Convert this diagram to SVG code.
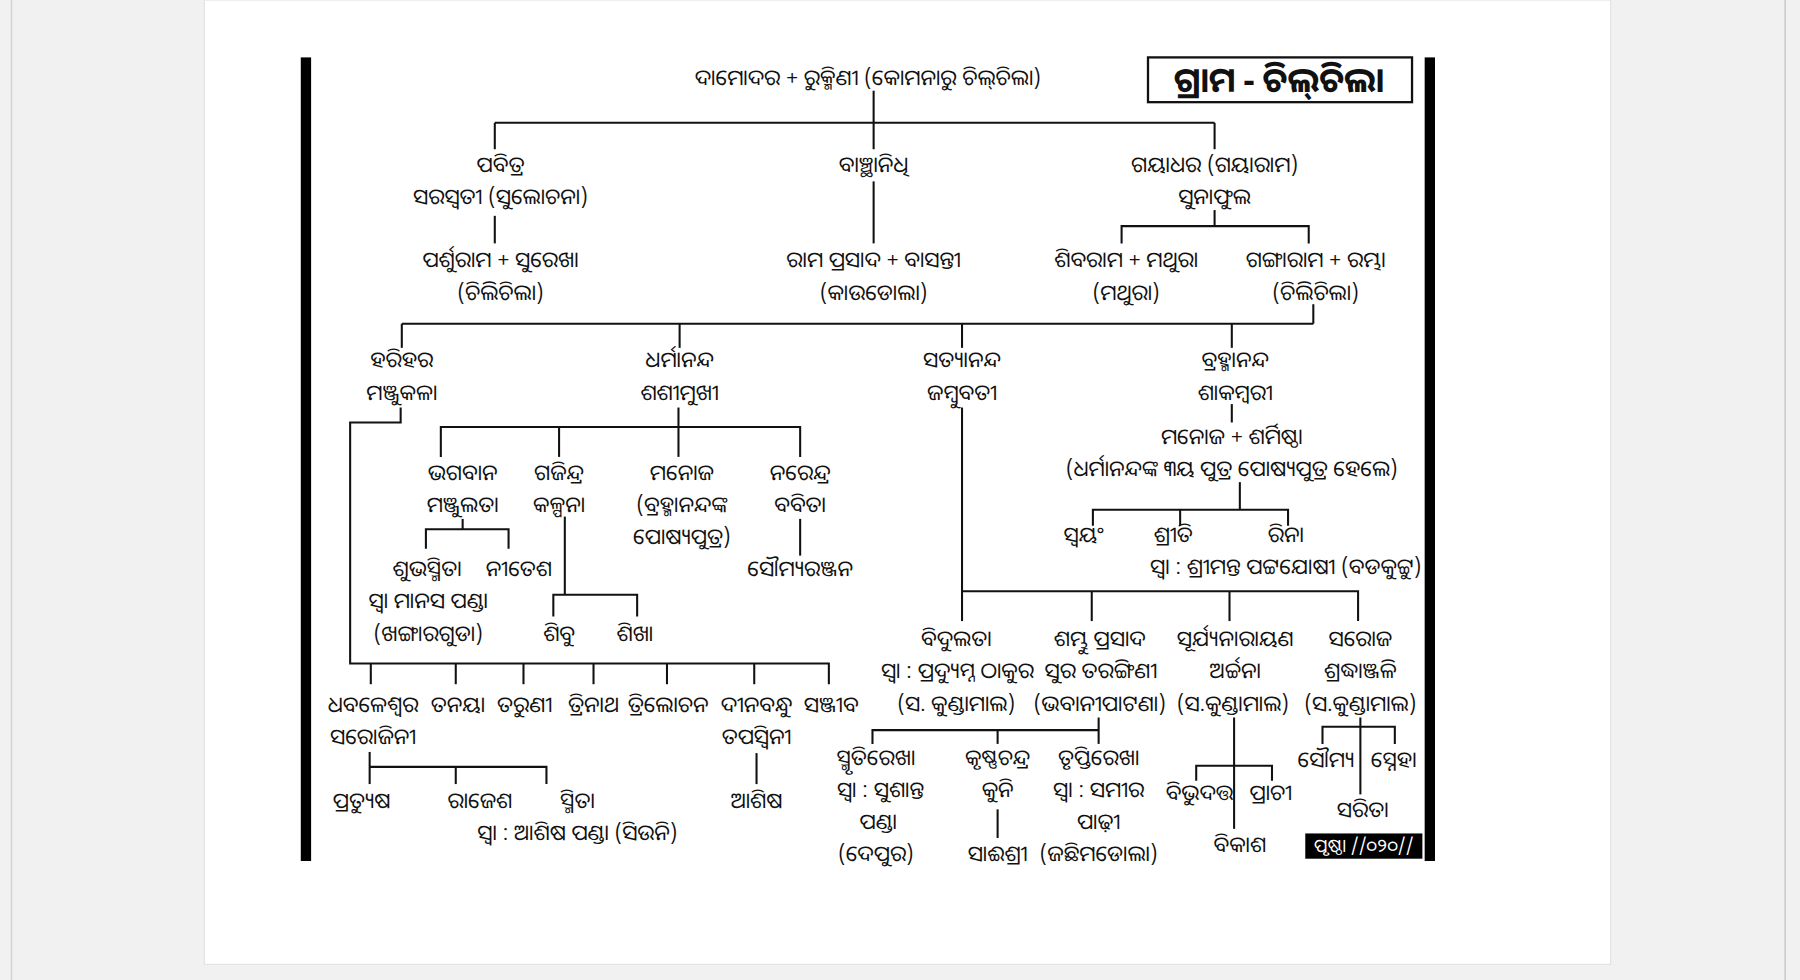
<svg xmlns="http://www.w3.org/2000/svg" width="1800" height="980" viewBox="0 0 1800 980">
<style>
text{font-family:"Noto Sans Oriya","Noto Sans","DejaVu Sans",sans-serif;font-size:19px;fill:#111;text-anchor:middle}
.c line,.c polyline{stroke:#111;stroke-width:1.8;fill:none}
.t{font-size:30px;font-weight:bold}
.pg{fill:#fff;font-size:16px}
</style>
<rect x="0" y="0" width="1800" height="980" fill="#f1f1f1"/>
<g transform="scale(1.148)">
<line x1="10" y1="0" x2="10" y2="854" stroke="#d6d6d6" stroke-width="1.5"/>
<line x1="1555" y1="0" x2="1555" y2="854" stroke="#cfcfcf" stroke-width="1.5"/>
<rect x="178" y="0" width="1225" height="840" fill="#fff" stroke="#e2e2e2"/>
<rect x="262" y="50" width="9" height="700" fill="#000"/>
<rect x="1241" y="50" width="9" height="700" fill="#000"/>
<g id="title"><rect x="1000" y="50" width="230" height="39" fill="#fff" stroke="#111" stroke-width="2"/><text class="t" x="1114" y="80">ଗ୍ରାମ - ଚିଲ୍‌ଚିଲା</text></g>
<g class="c" id="connectors">
<line x1="761" y1="79" x2="761" y2="130"/>
<line x1="431" y1="107" x2="1058" y2="107"/>
<line x1="431" y1="107" x2="431" y2="130"/>
<line x1="1058" y1="107" x2="1058" y2="130"/>
<line x1="431" y1="188" x2="431" y2="212"/>
<line x1="761" y1="158" x2="761" y2="212"/>
<line x1="1058" y1="183" x2="1058" y2="197"/>
<polyline points="977,212 977,197 1140,197 1140,212"/>
<line x1="1144" y1="265" x2="1144" y2="282"/>
<line x1="350" y1="282" x2="1144" y2="282"/>
<line x1="350" y1="282" x2="350" y2="303"/>
<line x1="592" y1="282" x2="592" y2="303"/>
<line x1="838" y1="282" x2="838" y2="303"/>
<line x1="1073" y1="282" x2="1073" y2="303"/>
<polyline points="349,355 349,368 305,368 305,578 722,578 722,596"/>
<line x1="323" y1="578" x2="323" y2="596"/>
<line x1="397" y1="578" x2="397" y2="596"/>
<line x1="456" y1="578" x2="456" y2="596"/>
<line x1="517" y1="578" x2="517" y2="596"/>
<line x1="581" y1="578" x2="581" y2="596"/>
<line x1="657" y1="578" x2="657" y2="596"/>
<line x1="591" y1="355" x2="591" y2="398"/>
<polyline points="384,398 384,372 697,372 697,398"/>
<line x1="487" y1="372" x2="487" y2="398"/>
<line x1="403" y1="452" x2="403" y2="461"/>
<polyline points="371,478 371,461 443,461 443,478"/>
<line x1="492" y1="450" x2="492" y2="518"/>
<polyline points="482,537 482,518 555,518 555,537"/>
<line x1="697" y1="452" x2="697" y2="484"/>
<line x1="1073" y1="352" x2="1073" y2="368"/>
<line x1="1080" y1="420" x2="1080" y2="444"/>
<polyline points="952,458 952,444 1122,444 1122,458"/>
<line x1="1028" y1="444" x2="1028" y2="458"/>
<line x1="838" y1="355" x2="838" y2="541"/>
<polyline points="838,515 1183,515 1183,541"/>
<line x1="951" y1="515" x2="951" y2="541"/>
<line x1="1071" y1="515" x2="1071" y2="541"/>
<line x1="322" y1="655" x2="322" y2="683"/>
<polyline points="322,668 476,668 476,683"/>
<line x1="397" y1="668" x2="397" y2="683"/>
<line x1="659" y1="656" x2="659" y2="683"/>
<line x1="957" y1="625" x2="957" y2="648"/>
<polyline points="760,648 760,636 957,636"/>
<line x1="869" y1="636" x2="869" y2="648"/>
<line x1="869" y1="705" x2="869" y2="730"/>
<line x1="1075" y1="625" x2="1075" y2="722"/>
<polyline points="1042,680 1042,667 1108,667 1108,680"/>
<line x1="1185" y1="625" x2="1185" y2="692"/>
<polyline points="1152,648 1152,633 1215,633 1215,648"/>
</g>
<g id="n-root"><text x="756" y="74">ଦାମୋଦର + ରୁକ୍ମିଣୀ (କୋମନାରୁ ଚିଲ୍‌ଚିଲା)</text></g>
<g id="n-pabitra"><text x="436" y="150">ପବିତ୍ର</text><text x="436" y="178">ସରସ୍ୱତୀ (ସୁଲୋଚନା)</text></g>
<g id="n-parshuram"><text x="436" y="233">ପର୍ଶୁରାମ + ସୁରେଖା</text><text x="436" y="261">(ଚିଲିଚିଲା)</text></g>
<g id="n-banchhanidhi"><text x="761" y="150">ବାଞ୍ଛାନିଧି</text></g>
<g id="n-ramprasad"><text x="761" y="233">ରାମ ପ୍ରସାଦ + ବାସନ୍ତୀ</text><text x="761" y="261">(କାଉଡୋଲା)</text></g>
<g id="n-gayadhar"><text x="1058" y="150">ଗୟାଧର (ଗୟାରାମ)</text><text x="1058" y="178">ସୁନାଫୁଲ</text></g>
<g id="n-shibaram"><text x="981" y="233">ଶିବରାମ + ମଥୁରା</text><text x="981" y="261">(ମଥୁରା)</text></g>
<g id="n-gangaram"><text x="1146" y="233">ଗଙ୍ଗାରାମ + ରମ୍ଭା</text><text x="1146" y="261">(ଚିଲିଚିଲା)</text></g>
<g id="n-harihar"><text x="350" y="320">ହରିହର</text><text x="350" y="348">ମଞ୍ଜୁକଳା</text></g>
<g id="n-dharmananda"><text x="592" y="320">ଧର୍ମାନନ୍ଦ</text><text x="592" y="348">ଶଶୀମୁଖୀ</text></g>
<g id="n-satyananda"><text x="838" y="320">ସତ୍ୟାନନ୍ଦ</text><text x="838" y="348">ଜମ୍ବୁବତୀ</text></g>
<g id="n-brahmananda"><text x="1076" y="320">ବ୍ରହ୍ମାନନ୍ଦ</text><text x="1076" y="348">ଶାକମ୍ବରୀ</text></g>
<g id="n-manoj2"><text x="1073" y="387">ମନୋଜ + ଶର୍ମିଷ୍ଠା</text><text x="1073" y="415">(ଧର୍ମାନନ୍ଦଙ୍କ ୩ୟ ପୁତ୍ର ପୋଷ୍ୟପୁତ୍ର ହେଲେ)</text></g>
<g id="n-swayam"><text x="944" y="472">ସ୍ୱୟଂ</text></g>
<g id="n-shriti"><text x="1022" y="472">ଶ୍ରୀତି</text></g>
<g id="n-rina"><text x="1120" y="472">ରିନା</text><text x="1120" y="500">ସ୍ୱା : ଶ୍ରୀମନ୍ତ ପଟ୍ଟଯୋଷୀ (ବଡକୁଟ୍ଟୁ)</text></g>
<g id="n-bhagaban"><text x="403" y="418">ଭଗବାନ</text><text x="403" y="446">ମଞ୍ଜୁଲତା</text></g>
<g id="n-gajindra"><text x="487" y="418">ଗଜିନ୍ଦ୍ର</text><text x="487" y="446">କଳ୍ପନା</text></g>
<g id="n-manoj"><text x="594" y="418">ମନୋଜ</text><text x="594" y="446">(ବ୍ରହ୍ମାନନ୍ଦଙ୍କ</text><text x="594" y="474">ପୋଷ୍ୟପୁତ୍ର)</text></g>
<g id="n-narendra"><text x="697" y="418">ନରେନ୍ଦ୍ର</text><text x="697" y="446">ବବିତା</text></g>
<g id="n-soumyaranjan"><text x="697" y="502">ସୌମ୍ୟରଞ୍ଜନ</text></g>
<g id="n-shubhasmita"><text x="372" y="502">ଶୁଭସ୍ମିତା</text><text x="373" y="530">ସ୍ୱା ମାନସ ପଣ୍ଡା</text><text x="373" y="558">(ଖଙ୍ଗାରଗୁଡା)</text></g>
<g id="n-nitesh"><text x="452" y="502">ନୀତେଶ</text></g>
<g id="n-shibu"><text x="487" y="558">ଶିବୁ</text></g>
<g id="n-shikha"><text x="553" y="558">ଶିଖା</text></g>
<g id="n-dhabaleswar"><text x="325" y="620">ଧବଳେଶ୍ୱର</text><text x="325" y="648">ସରୋଜିନୀ</text></g>
<g id="n-tanaya"><text x="399" y="620">ତନୟା</text></g>
<g id="n-taruni"><text x="457" y="620">ତରୁଣୀ</text></g>
<g id="n-trinath"><text x="517" y="620">ତ୍ରିନାଥ</text></g>
<g id="n-trilochan"><text x="582" y="620">ତ୍ରିଲୋଚନ</text></g>
<g id="n-dinabandhu"><text x="659" y="620">ଦୀନବନ୍ଧୁ</text><text x="659" y="648">ତପସ୍ୱିନୀ</text></g>
<g id="n-sanjib"><text x="724" y="620">ସଞ୍ଜୀବ</text></g>
<g id="n-pratyusha"><text x="315" y="704">ପ୍ରତ୍ୟୁଷ</text></g>
<g id="n-rajesh"><text x="418" y="704">ରାଜେଶ</text></g>
<g id="n-smita"><text x="503" y="704">ସ୍ମିତା</text><text x="503" y="732">ସ୍ୱା : ଆଶିଷ ପଣ୍ଡା (ସିଉନି)</text></g>
<g id="n-ashish"><text x="659" y="704">ଆଶିଷ</text></g>
<g id="n-bidulata"><text x="833" y="563">ବିଦୁଲତା</text><text x="834" y="591">ସ୍ୱା : ପ୍ରଦ୍ୟୁମ୍ନ ଠାକୁର</text><text x="833" y="619">(ସ. କୁଣ୍ଡାମାଲ)</text></g>
<g id="n-shambhu"><text x="958" y="563">ଶମ୍ଭୁ ପ୍ରସାଦ</text><text x="959" y="591">ସୁର ତରଙ୍ଗିଣୀ</text><text x="958" y="619">(ଭବାନୀପାଟଣା)</text></g>
<g id="n-surya"><text x="1076" y="563">ସୂର୍ଯ୍ୟନାରାୟଣ</text><text x="1076" y="591">ଅର୍ଚ୍ଚନା</text><text x="1074" y="619">(ସ.କୁଣ୍ଡାମାଲ)</text></g>
<g id="n-saroj"><text x="1185" y="563">ସରୋଜ</text><text x="1185" y="591">ଶ୍ରଦ୍ଧାଞ୍ଜଳି</text><text x="1185" y="619">(ସ.କୁଣ୍ଡାମାଲ)</text></g>
<g id="n-smrutirekha"><text x="763" y="666">ସ୍ମୃତିରେଖା</text><text x="767" y="694">ସ୍ୱା : ସୁଶାନ୍ତ</text><text x="765" y="722">ପଣ୍ଡା</text><text x="763" y="750">(ଦେପୁର)</text></g>
<g id="n-krushna"><text x="869" y="666">କୃଷ୍ଣଚନ୍ଦ୍ର</text><text x="869" y="694">କୁନି</text></g>
<g id="n-saishree"><text x="869" y="750">ସାଈଶ୍ରୀ</text></g>
<g id="n-truptirekha"><text x="957" y="666">ତୃପ୍ତିରେଖା</text><text x="957" y="694">ସ୍ୱା : ସମୀର</text><text x="957" y="722">ପାଢ଼ୀ</text><text x="957" y="750">(ଜଛିମଡୋଲା)</text></g>
<g id="n-bibhudatta"><text x="1045" y="697">ବିଭୁଦତ୍ତ</text></g>
<g id="n-prachi"><text x="1107" y="697">ପ୍ରାଚୀ</text></g>
<g id="n-bikash"><text x="1080" y="742">ବିକାଶ</text></g>
<g id="n-soumya"><text x="1155" y="668">ସୌମ୍ୟ</text></g>
<g id="n-sneha"><text x="1214" y="668">ସ୍ନେହା</text></g>
<g id="n-sarita"><text x="1187" y="712">ସରିତା</text></g>
<g id="page"><rect x="1137" y="726" width="102" height="22" fill="#000"/><text class="pg" x="1188" y="742">ପୃଷ୍ଠା //୦୨୦//</text></g>
</g>
</svg>
